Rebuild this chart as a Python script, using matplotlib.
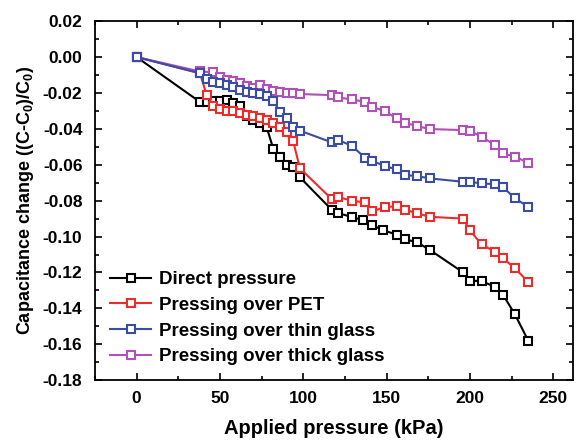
import matplotlib
matplotlib.use("Agg")
import matplotlib.pyplot as plt
from matplotlib.ticker import MultipleLocator

plt.rcParams['font.family'] = ['Liberation Sans', 'DejaVu Sans']
plt.rcParams['font.weight'] = 'bold'
plt.rcParams['mathtext.fontset'] = 'custom'
plt.rcParams['mathtext.rm'] = 'Liberation Sans:bold'
plt.rcParams['mathtext.bf'] = 'Liberation Sans:bold'
plt.rcParams['mathtext.it'] = 'Liberation Sans:bold'

# Direct pressure
x_direct = [0, 38, 42, 46, 50, 54, 58, 62, 66, 70, 74, 78, 82, 86, 90, 94, 98,
            117, 121, 129, 136, 141, 148, 156, 161, 168, 176, 196, 200, 207, 215, 220, 227, 235]
y_direct = [0, -0.025, -0.025, -0.0245, -0.0243, -0.024, -0.0255, -0.027, -0.033, -0.035,
            -0.037, -0.039, -0.051, -0.0555, -0.060, -0.0615, -0.067, -0.085, -0.087, -0.089,
            -0.091, -0.0936, -0.0964, -0.099, -0.1016, -0.103, -0.1075, -0.120, -0.1246,
            -0.1248, -0.128, -0.1326, -0.1433, -0.158]

# Pressing over PET
x_pet = [0, 38, 42, 46, 50, 54, 58, 62, 66, 70, 74, 78, 82, 86, 90, 94, 98,
         117, 121, 129, 137, 141, 149, 156, 161, 168, 176, 196, 200, 207, 215, 220, 227, 235]
y_pet = [0, -0.009, -0.021, -0.027, -0.029, -0.030, -0.030, -0.031, -0.032, -0.033, -0.034,
         -0.035, -0.037, -0.039, -0.042, -0.047, -0.062, -0.079, -0.078, -0.080, -0.081,
         -0.086, -0.0837, -0.083, -0.085, -0.087, -0.089, -0.090, -0.0966, -0.1043, -0.1085,
         -0.1122, -0.1177, -0.1252]

# Pressing over thin glass
x_thin = [0, 38, 42, 46, 50, 54, 58, 62, 66, 70, 74, 78, 82, 86, 90, 94, 98,
          117, 121, 129, 137, 141, 149, 156, 161, 168, 176, 196, 200, 207, 215, 220, 227, 235]
y_thin = [0, -0.009, -0.0124, -0.0137, -0.0147, -0.0156, -0.0169, -0.0184, -0.0193, -0.0202,
          -0.0206, -0.0217, -0.0243, -0.0305, -0.0342, -0.0388, -0.041, -0.0475, -0.0462,
          -0.0494, -0.056, -0.0577, -0.0607, -0.0626, -0.0657, -0.0663, -0.0676, -0.0695,
          -0.0695, -0.0704, -0.0708, -0.0726, -0.0787, -0.0834]

# Pressing over thick glass
x_thick = [0, 38, 46, 50, 54, 58, 62, 66, 70, 74, 78, 82, 86, 90, 94, 98,
           117, 121, 129, 137, 141, 149, 156, 161, 168, 176, 196, 200, 207, 215, 220, 227, 235]
y_thick = [0, -0.008, -0.0085, -0.011, -0.0125, -0.0135, -0.0145, -0.016, -0.017, -0.0155,
           -0.018, -0.019, -0.0195, -0.020, -0.020, -0.0206, -0.0212, -0.0225, -0.0236, -0.0249,
           -0.0277, -0.0301, -0.0342, -0.0366, -0.0384, -0.0401, -0.0407, -0.0412, -0.0444,
           -0.049, -0.0537, -0.0555, -0.0589]

labels = ["Direct pressure", "Pressing over PET", "Pressing over thin glass",
          "Pressing over thick glass"]
colors = ["#000000", "#ee2b2b", "#3a4da6", "#b050b8"]

fig = plt.figure(figsize=(5.79, 4.41), dpi=100)
ax = fig.add_axes([0.164, 0.138, 0.826, 0.814])

series = [(x_direct, y_direct), (x_pet, y_pet), (x_thin, y_thin), (x_thick, y_thick)]
handles = []
for (xs, ys), lab, c, z in zip(series, labels, colors, [2, 3, 4, 3.5]):
    h, = ax.plot(xs, ys, '-s', color=c, mfc='white', mec=c, ms=6, mew=1.5, lw=1.5,
                 label=lab, zorder=z)
    handles.append(h)

ax.set_xlim(-25, 262)
ax.set_ylim(-0.18, 0.02)
ax.xaxis.set_major_locator(MultipleLocator(50))
ax.xaxis.set_minor_locator(MultipleLocator(25))
ax.yaxis.set_major_locator(MultipleLocator(0.02))
ax.yaxis.set_minor_locator(MultipleLocator(0.01))
ax.yaxis.set_major_formatter(plt.FuncFormatter(lambda v, p: f"{v:.2f}".replace("-0.00", "0.00")))
ax.tick_params(which='both', direction='in', top=True, right=True, labelsize=12.5, width=1.2)
ax.tick_params(which='major', length=5)
ax.tick_params(which='minor', length=3)
ax.tick_params(axis='y', which='major', pad=9)
ax.tick_params(axis='x', which='major', pad=8)
for s in ax.spines.values():
    s.set_linewidth(1.3)

ax.set_xlabel("Applied pressure (kPa)", fontsize=14.5, fontweight='bold', labelpad=9)
ax.set_ylabel(r"Capacitance change ((C-C$_\mathbf{0}$)/C$_\mathbf{0}$)", fontsize=13,
              fontweight='bold', labelpad=5)

ax.legend(handles=handles, loc='lower left', frameon=False,
          handlelength=2.2, handletextpad=0.4, labelspacing=0.45,
          borderaxespad=0.4, prop={'weight': 'bold', 'size': 13.5})

fig.savefig("out.png", dpi=100)
